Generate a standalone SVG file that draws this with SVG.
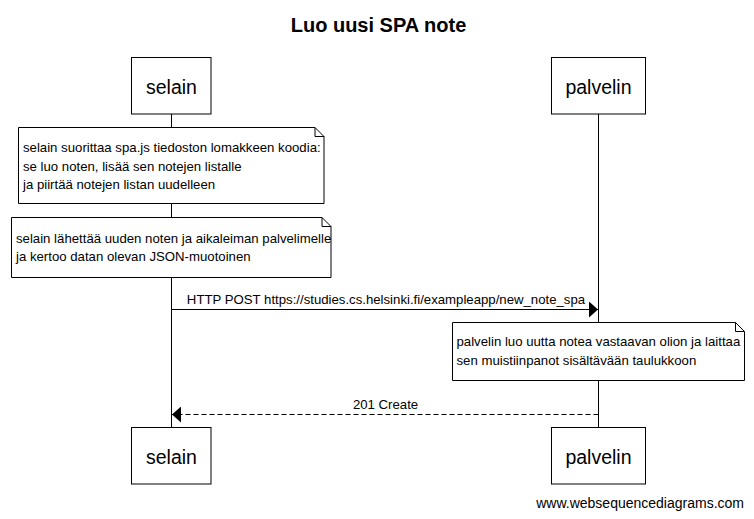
<svg xmlns="http://www.w3.org/2000/svg" width="754" height="519" viewBox="0 0 754 519">
<style>
text{font-family:"Liberation Sans",Arial,sans-serif;fill:#000}
.actor rect{fill:#fff;stroke:#000;stroke-width:1}
.actor text{font-size:19.5px;text-anchor:middle}
.note path{fill:#fff;stroke:#000;stroke-width:1}
.note text{font-size:13.2px}
.life{stroke:#000;stroke-width:1}
.msg{stroke:#000;stroke-width:1;fill:none}
.lbl{font-size:13.2px;text-anchor:middle}
</style>
<defs>
<marker id="ah" viewBox="0 0 9 16" refX="9" refY="8" markerWidth="9" markerHeight="16" markerUnits="userSpaceOnUse" orient="auto">
<path d="M0,0 L9,8 L0,16 Z" fill="#000"/>
</marker>
</defs>
<rect width="754" height="519" fill="#fff"/>
<text x="378.5" y="32" style="font-size:20px;font-weight:bold;text-anchor:middle">Luo uusi SPA note</text>
<g id="lifelines">
<line class="life" x1="171.5" y1="114" x2="171.5" y2="427.5"/>
<line class="life" x1="598.5" y1="114" x2="598.5" y2="427.5"/>
</g>
<g id="selain-top" class="actor"><rect x="131.5" y="57.5" width="79.5" height="56.5"/><text x="171.5" y="93.5">selain</text></g>
<g id="palvelin-top" class="actor"><rect x="551.5" y="57.5" width="94" height="56.5"/><text x="598.5" y="93.5">palvelin</text></g>
<g id="note1" class="note">
<path d="M18.5,127.5 H315 L324,136.5 V203.5 H18.5 Z M315,127.5 V136.5 H324"/>
<text x="23" y="152">selain suorittaa spa.js tiedoston lomakkeen koodia:</text>
<text x="23" y="170.5">se luo noten, lisää sen notejen listalle</text>
<text x="23" y="189">ja piirtää notejen listan uudelleen</text>
</g>
<g id="note2" class="note">
<path d="M11.5,217.5 H322 L331,226.5 V277.5 H11.5 Z M322,217.5 V226.5 H331"/>
<text x="16" y="242.5">selain lähettää uuden noten ja aikaleiman palvelimelle</text>
<text x="16" y="261">ja kertoo datan olevan JSON-muotoinen</text>
</g>
<g id="note3" class="note">
<path d="M452.5,322.5 H735.5 L744.5,331.5 V380.5 H452.5 Z M735.5,322.5 V331.5 H744.5"/>
<text x="456.5" y="346">palvelin luo uutta notea vastaavan olion ja laittaa</text>
<text x="456.5" y="365">sen muistiinpanot sisältävään taulukkoon</text>
</g>
<g id="connectors">
<line class="msg" x1="171.5" y1="309.5" x2="598" y2="309.5" marker-end="url(#ah)"/>
<text class="lbl" x="386" y="304">HTTP POST https://studies.cs.helsinki.fi/exampleapp/new_note_spa</text>
<line class="msg" x1="598.5" y1="414.5" x2="172" y2="414.5" stroke-dasharray="5,3" marker-end="url(#ah)"/>
<text class="lbl" x="385.5" y="408.5">201 Create</text>
</g>
<g id="selain-bottom" class="actor"><rect x="131.5" y="427.5" width="79.5" height="56.5"/><text x="171.5" y="463.5">selain</text></g>
<g id="palvelin-bottom" class="actor"><rect x="551.5" y="427.5" width="94" height="56.5"/><text x="598.5" y="463.5">palvelin</text></g>
<text x="744" y="508" style="font-size:14px;text-anchor:end">www.websequencediagrams.com</text>
</svg>
